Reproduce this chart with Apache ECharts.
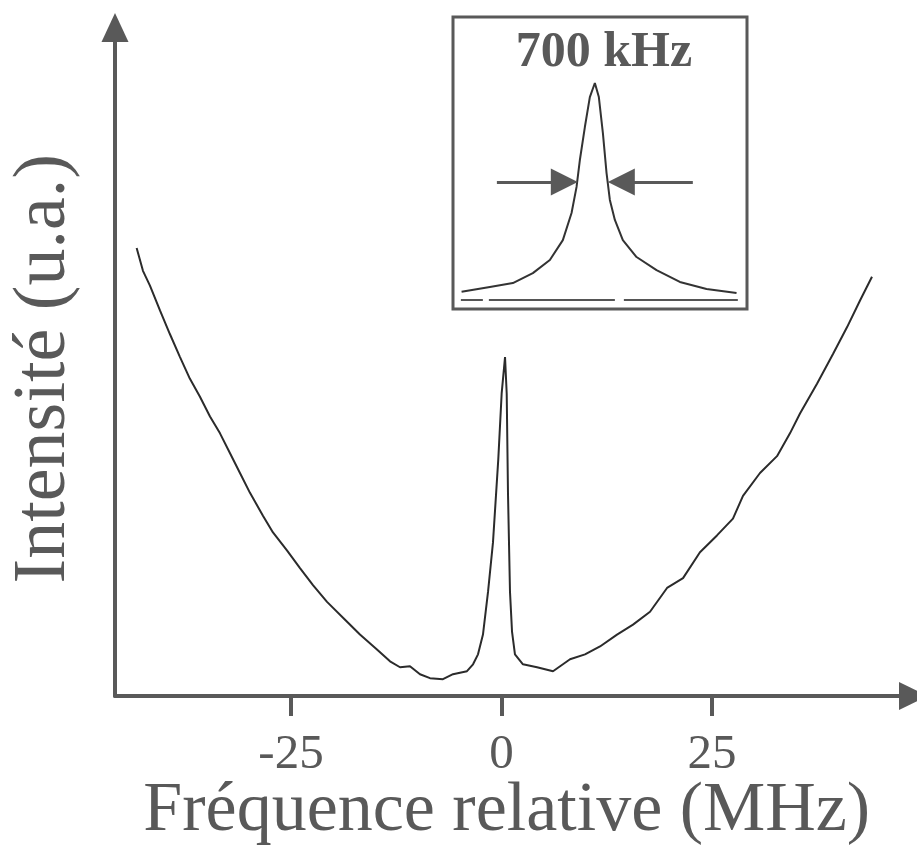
<!DOCTYPE html>
<html>
<head>
<meta charset="utf-8">
<title>Fréquence relative</title>
<script src="https://cdn.jsdelivr.net/npm/echarts@6/dist/echarts.min.js"></script>
<style>
  html, body { margin: 0; padding: 0; background: #fff; }
  #chart { width: 917px; height: 852px; }
</style>
</head>
<body>
<div id="chart"></div>
<script>
///////////////////////////////////////////////////////////////////
// data
///////////////////////////////////////////////////////////////////
var freqMHz = [-43.33, -42.58, -41.75, -40.56, -39.37, -38.18, -37.00, -35.81, -34.62, -33.43,
  -32.24, -31.06, -29.87, -28.33, -27.14, -25.48, -23.93, -22.39, -20.72, -18.82,
  -16.81, -14.79, -13.24, -12.05, -10.87, -9.68, -8.49, -6.95, -5.76, -4.10,
  -3.38, -2.79, -2.20, -1.60, -1.01, -0.38, 0.02, 0.42, 0.62, 0.77,
  1.01, 1.25, 1.60, 2.55, 4.22, 6.12, 8.14, 9.92, 11.70, 13.72,
  15.62, 17.64, 19.66, 21.56, 23.57, 25.59, 27.49, 28.68, 30.70, 32.72,
  34.26, 35.45, 37.47, 39.37, 41.03, 42.58, 44.00];
var intensity = [67.01, 63.60, 61.38, 57.67, 54.11, 50.70, 47.44, 44.77, 41.81, 39.29,
  36.32, 33.36, 30.39, 26.98, 24.46, 21.79, 19.13, 16.60, 14.08, 11.71,
  9.19, 6.97, 5.19, 4.30, 4.45, 3.26, 2.67, 2.52, 3.26, 3.71,
  4.74, 6.23, 9.19, 15.57, 22.98, 35.43, 45.26, 50.70, 45.22, 30.39,
  15.57, 9.64, 6.23, 4.74, 4.30, 3.71, 5.49, 6.23, 7.41, 9.19,
  10.67, 12.60, 16.16, 17.64, 21.50, 24.02, 26.54, 29.95, 33.36, 35.88,
  39.29, 42.25, 46.70, 51.15, 55.15, 59.16, 62.71];
var xTicks = [-25, 0, 25];

// encart : zoom sur le pic central
var insetFreq = [-3.110, -2.450, -1.913, -1.447, -1.050, -0.747, -0.544, -0.427, -0.350, -0.233,
  -0.117, 0, 0.093, 0.187, 0.273, 0.350, 0.467, 0.653, 0.973, 1.439,
  1.983, 2.606, 3.306];
var insetIntensity = [0.038, 0.060, 0.078, 0.124, 0.184, 0.276, 0.401, 0.521, 0.645, 0.797,
  0.935, 1.0, 0.935, 0.770, 0.585, 0.461, 0.369, 0.276, 0.198, 0.138,
  0.083, 0.051, 0.032];
var baselineFreq = [-3.126, -2.613, null, -2.473, 0.467, null, 0.677, 3.336];
var arrowLeft = [-2.286, -0.712];
var arrowRight = [2.286, 0.618];
var arrowLevel = 0.544;
var widthLabel = '700 kHz';

///////////////////////////////////////////////////////////////////
// build
///////////////////////////////////////////////////////////////////
var mainData = freqMHz.map(function (f, i) { return [f, intensity[i]]; });
var insetData = insetFreq.map(function (f, i) { return [f, insetIntensity[i]]; });
var baseData = baselineFreq.map(function (f) { return f === null ? '-' : [f, 0]; });

var serif = '"Liberation Serif", "DejaVu Serif", serif';
var grey = '#595959';

var myChart = echarts.init(document.getElementById('chart'));
var option = {
  backgroundColor: '#fff',
  animation: false,
  grid: [
    { left: 115, top: 27.5, right: 3.5, bottom: 150 },
    { left: 453, top: 17, width: 294, height: 292, show: true,
      borderColor: grey, borderWidth: 3, backgroundColor: '#fff' }
  ],
  xAxis: [{
    type: 'value',
    gridIndex: 0,
    min: -45.9,
    max: 48.93,
    splitLine: { show: false },
    axisLine: {
      onZero: false,
      lineStyle: { color: grey, width: 4 },
      symbol: ['none', 'triangle'],
      symbolSize: [28, 29]
    },
    axisTick: { customValues: xTicks, length: 20, lineStyle: { color: grey, width: 4 } },
    axisLabel: {
      customValues: xTicks,
      margin: 35,
      fontFamily: serif,
      fontSize: 49,
      color: grey
    },
    name: 'Fréquence relative (MHz)',
    nameLocation: 'middle',
    nameGap: 81,
    nameMoveOverlap: false,
    nameTextStyle: { fontFamily: serif, fontSize: 70, color: grey, padding: [0, 15, 0, 0] }
  }, {
    type: 'value',
    gridIndex: 1,
    min: -3.31,
    max: 3.55,
    show: false
  }],
  yAxis: [{
    type: 'value',
    gridIndex: 0,
    min: 0,
    max: 100,
    splitLine: { show: false },
    axisTick: { show: false },
    axisLabel: { show: false },
    axisLine: {
      onZero: false,
      lineStyle: { color: grey, width: 4 },
      symbol: ['none', 'triangle'],
      symbolSize: [27, 29]
    },
    name: 'Intensité (u.a.)',
    nameLocation: 'middle',
    nameGap: 33,
    nameMoveOverlap: false,
    nameTextStyle: { fontFamily: serif, fontSize: 74, color: grey, padding: [0, 14, 0, 0] }
  }, {
    type: 'value',
    gridIndex: 1,
    min: -0.0415,
    max: 1.304,
    show: false
  }],
  graphic: [{
    type: 'text',
    x: 604,
    y: 53,
    style: {
      text: widthLabel,
      font: 'bold 50px ' + serif,
      fill: grey,
      align: 'center',
      verticalAlign: 'middle'
    }
  }],
  series: [{
    type: 'line',
    xAxisIndex: 0,
    yAxisIndex: 0,
    data: mainData,
    showSymbol: false,
    lineStyle: { color: '#2b2b2b', width: 2 }
  }, {
    type: 'line',
    xAxisIndex: 1,
    yAxisIndex: 1,
    data: insetData,
    showSymbol: false,
    lineStyle: { color: '#333', width: 2 },
    markLine: {
      silent: true,
      symbol: ['none', 'triangle'],
      symbolSize: [27, 27],
      label: { show: false },
      lineStyle: { color: grey, width: 3, type: 'solid' },
      data: [
        [{ coord: [arrowLeft[0], arrowLevel] }, { coord: [arrowLeft[1], arrowLevel] }],
        [{ coord: [arrowRight[0], arrowLevel] }, { coord: [arrowRight[1], arrowLevel] }]
      ]
    }
  }, {
    type: 'line',
    xAxisIndex: 1,
    yAxisIndex: 1,
    data: baseData,
    showSymbol: false,
    connectNulls: false,
    lineStyle: { color: '#555', width: 2 }
  }]
};

myChart.setOption(option);
</script>
</body>
</html>
